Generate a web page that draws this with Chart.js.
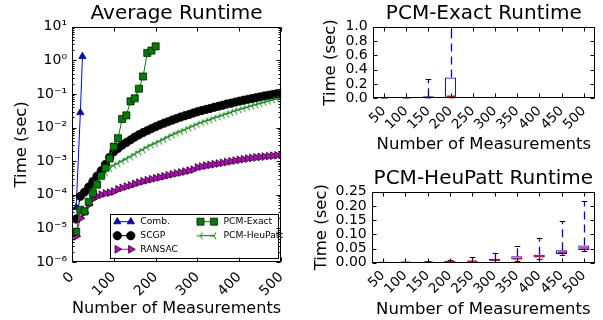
<!DOCTYPE html>
<html>
<head>
<meta charset="utf-8">
<script src="https://cdn.jsdelivr.net/npm/chart.js@4.4.1/dist/chart.umd.min.js"></script>
<style>
  html, body { margin: 0; padding: 0; background: #fff; }
  #wrap { position: relative; width: 603px; height: 320px; }
  canvas { position: absolute; }
</style>
</head>
<body>
<div id="wrap">
  <canvas id="avg" width="300" height="320" style="left:0;top:0"></canvas>
  <canvas id="exact" width="303" height="160" style="left:300px;top:0"></canvas>
  <canvas id="heu" width="303" height="160" style="left:300px;top:160px"></canvas>
</div>
<script>
// ---- Average runtime (log scale) ----
const measurements = [10, 20, 30, 40, 50, 60, 70, 80, 90, 100, 110, 120, 130, 140, 150, 160, 170, 180, 190, 200,
  210, 220, 230, 240, 250, 260, 270, 280, 290, 300, 310, 320, 330, 340, 350, 360, 370, 380, 390, 400,
  410, 420, 430, 440, 450, 460, 470, 480, 490, 500];

const combX = [10, 20, 25];
const combTime = [4.2e-5, 0.028, 1.3];

const scgpTime = [1.9e-5, 9e-5, 1.2e-4, 1.7e-4, 2.5e-4, 3.6e-4, 5.2e-4, 8e-4, 1.3e-3, 1.9e-3,
  2.4e-3, 3.0e-3, 3.6e-3, 4.3e-3, 5.2e-3, 6.1e-3, 7.1e-3, 8.1e-3, 9.3e-3, 0.0106,
  0.012, 0.0135, 0.015, 0.0167, 0.0185, 0.0205, 0.0225, 0.0245, 0.027, 0.0295,
  0.032, 0.0345, 0.037, 0.040, 0.043, 0.046, 0.050, 0.053, 0.057, 0.061,
  0.065, 0.069, 0.073, 0.077, 0.082, 0.087, 0.091, 0.096, 0.101, 0.106];

const ransacTime = [5.8e-6, 2.0e-5, 2.9e-5, 5.0e-5, 7.5e-5, 9.0e-5, 1.0e-4, 1.1e-4, 1.15e-4, 1.25e-4,
  1.45e-4, 1.6e-4, 1.75e-4, 1.9e-4, 2.1e-4, 2.3e-4, 2.5e-4, 2.7e-4, 2.9e-4, 3.1e-4,
  3.3e-4, 3.55e-4, 3.8e-4, 4.05e-4, 4.3e-4, 4.6e-4, 4.9e-4, 5.25e-4, 5.6e-4, 6.5e-4,
  6.9e-4, 7.3e-4, 7.7e-4, 8.1e-4, 8.5e-4, 8.9e-4, 9.4e-4, 9.9e-4, 1.04e-3, 1.09e-3,
  1.14e-3, 1.19e-3, 1.24e-3, 1.29e-3, 1.33e-3, 1.37e-3, 1.41e-3, 1.45e-3, 1.49e-3, 1.53e-3];

const exactX = [10, 20, 30, 40, 50, 60, 70, 80, 90, 100, 110, 120, 130, 140, 150, 160, 170, 180, 190, 200];
const exactTime = [7.9e-6, 3.6e-5, 3.2e-5, 6.2e-5, 1.1e-4, 2.0e-4, 3.7e-4, 6.4e-4, 1.2e-3, 2.7e-3,
  4.8e-3, 0.018, 0.023, 0.060, 0.074, 0.143, 0.33, 1.66, 1.95, 2.6];

const heuX = [50, 60, 70, 80, 90, 100, 110, 120, 130, 140, 150, 160, 170, 180, 190, 200,
  210, 220, 230, 240, 250, 260, 270, 280, 290, 300, 310, 320, 330, 340, 350, 360, 370, 380, 390, 400,
  410, 420, 430, 440, 450, 460, 470, 480, 490, 500];
const heuTime = [1.5e-4, 2.5e-4, 3.4e-4, 4.5e-4, 6.0e-4, 7.5e-4, 8.5e-4, 1.0e-3, 1.15e-3, 1.35e-3,
  1.6e-3, 1.9e-3, 2.2e-3, 2.6e-3, 3.0e-3, 3.4e-3, 3.9e-3, 4.5e-3, 5.2e-3, 6.0e-3,
  6.8e-3, 7.6e-3, 8.6e-3, 9.8e-3, 0.011, 0.0125, 0.014, 0.0155, 0.017, 0.019,
  0.021, 0.023, 0.0255, 0.028, 0.031, 0.034, 0.037, 0.040, 0.044, 0.048,
  0.052, 0.056, 0.061, 0.066, 0.071, 0.076];

const xTicks = [0, 100, 200, 300, 400, 500];
const yTicks = [1e-6, 1e-5, 1e-4, 1e-3, 1e-2, 1e-1, 1, 10];
const yTickLabels = ['10⁻⁶', '10⁻⁵', '10⁻⁴', '10⁻³', '10⁻²', '10⁻¹', '10⁰', '10¹'];

// ---- Box plots ----
const boxLabels = ['50', '100', '150', '200', '250', '300', '350', '400', '450', '500'];

const exactLow = [0, 0.001, 0.002, 0.004, null, null, null, null, null, null];
const exactQ1 = [0, 0.001, 0.003, 0.006, null, null, null, null, null, null];
const exactMed = [0, 0.002, 0.006, 0.03, null, null, null, null, null, null];
const exactQ3 = [0.001, 0.004, 0.03, 0.29, null, null, null, null, null, null];
const exactHigh = [0.002, 0.008, 0.27, 2.4, null, null, null, null, null, null];
const exactYTicks = [0, 0.2, 0.4, 0.6, 0.8, 1.0];

const heuLow = [0.0003, 0.0005, 0.0008, 0.001, 0.0015, 0.004, 0.007, 0.013, 0.026, 0.040];
const heuQ1 = [0.0006, 0.0009, 0.0014, 0.002, 0.003, 0.0065, 0.011, 0.018, 0.031, 0.045];
const heuMed = [0.0008, 0.0012, 0.002, 0.003, 0.0045, 0.009, 0.015, 0.0225, 0.037, 0.052];
const heuQ3 = [0.0012, 0.0018, 0.003, 0.006, 0.008, 0.013, 0.023, 0.028, 0.044, 0.061];
const heuHigh = [0.002, 0.003, 0.006, 0.011, 0.019, 0.035, 0.059, 0.088, 0.147, 0.216];
const heuYTicks = [0, 0.05, 0.10, 0.15, 0.20, 0.25];

Chart.defaults.font.family = "'DejaVu Sans'";
Chart.defaults.color = '#000';

// shift rotated labels so their middle sits under the tick
const labelShift = per => c => (c.tick && c.tick.label !== undefined) ? String(c.tick.label).length * per : 0;

// draws the axes box and inward ticks on all four sides
function framePlugin(logMinor) {
  return {
    id: 'frame',
    afterDraw(chart) {
      const { ctx, chartArea: a, scales: { x, y } } = chart;
      const L = Math.round(a.left) + 0.5, R = Math.round(a.right) - 0.5;
      const T = Math.round(a.top) + 0.5, B = Math.round(a.bottom) - 0.5;
      ctx.save();
      ctx.strokeStyle = '#000';
      ctx.lineWidth = 1;
      ctx.beginPath();
      x.ticks.forEach((t, i) => {
        const px = Math.round(x.getPixelForTick(i)) + 0.5;
        ctx.moveTo(px, T); ctx.lineTo(px, T + 4);
        ctx.moveTo(px, B); ctx.lineTo(px, B - 4);
      });
      y.ticks.forEach((t, i) => {
        const py = Math.round(y.getPixelForTick(i)) + 0.5;
        ctx.moveTo(L, py); ctx.lineTo(L + 4, py);
        ctx.moveTo(R, py); ctx.lineTo(R - 4, py);
      });
      if (logMinor) {
        for (let e = -6; e < 1; e++) {
          for (let k = 2; k < 10; k++) {
            const py = Math.round(y.getPixelForValue(k * Math.pow(10, e))) + 0.5;
            ctx.moveTo(L, py); ctx.lineTo(L + 2, py);
            ctx.moveTo(R, py); ctx.lineTo(R - 2, py);
          }
        }
      }
      ctx.stroke();
      ctx.strokeRect(L, T, R - L, B - T);
      ctx.restore();
    }
  };
}

// tri_left marker like matplotlib '3'
function triLeft(color) {
  const c = document.createElement('canvas');
  c.width = 10; c.height = 10;
  const g = c.getContext('2d');
  g.strokeStyle = color;
  g.lineWidth = 1;
  g.beginPath();
  g.moveTo(5, 5); g.lineTo(1, 5);
  g.moveTo(5, 5); g.lineTo(7, 1.5);
  g.moveTo(5, 5); g.lineTo(7, 8.5);
  g.stroke();
  return c;
}
const heuMarker = triLeft('#008000');

const series = [
  { label: 'Comb.', xs: combX, ys: combTime, color: '#0000ff', style: 'triangle', rot: 0, r: 4.2, order: 5 },
  { label: 'SCGP', xs: measurements, ys: scgpTime, color: '#000000', style: 'circle', rot: 0, r: 4.2, order: 4 },
  { label: 'RANSAC', xs: measurements, ys: ransacTime, color: '#bf00bf', style: 'triangle', rot: 90, r: 4.5, order: 3 },
  { label: 'PCM-Exact', xs: exactX, ys: exactTime, color: '#008000', style: 'rect', rot: 0, r: 5, order: 2 },
  { label: 'PCM-HeuPatt', xs: heuX, ys: heuTime, color: '#008000', style: heuMarker, rot: 0, r: 4, order: 1 }
];

// legend box inside the axes, two columns
const legendPlugin = {
  id: 'legendBox',
  afterDatasetsDraw(chart) {
    const { ctx, chartArea: a } = chart;
    const left = 110.5, top = 214.5, right = Math.round(a.right) - 2.5, bottom = 258.5;
    ctx.save();
    ctx.fillStyle = '#fff';
    ctx.fillRect(left, top, right - left, bottom - top);
    ctx.strokeStyle = '#000';
    ctx.lineWidth = 1;
    ctx.strokeRect(left, top, right - left, bottom - top);
    const slots = [[117.3, 221.7], [117.3, 235.7], [117.3, 249.3], [200.5, 221.7], [200.5, 235.7]];
    series.forEach((s, i) => {
      const [mx, my] = slots[i];
      ctx.strokeStyle = s.color;
      ctx.lineWidth = 1;
      ctx.beginPath();
      ctx.moveTo(mx, my); ctx.lineTo(mx + 13.5, my);
      ctx.stroke();
      [mx, mx + 13.5].forEach(px => {
        ctx.fillStyle = s.color;
        ctx.strokeStyle = '#000';
        ctx.lineWidth = 0.7;
        Chart.helpers.drawPoint(ctx, { pointStyle: s.style, rotation: s.rot, radius: s.r, borderWidth: 0.7 }, px, my);
      });
      ctx.fillStyle = '#000';
      ctx.font = "9.2px 'DejaVu Sans'";
      ctx.textBaseline = 'middle';
      ctx.fillText(s.label, mx + 23, my);
    });
    ctx.restore();
  }
};

new Chart(document.getElementById('avg'), {
  type: 'line',
  data: {
    datasets: series.map(s => ({
      label: s.label,
      data: s.xs.map((x, i) => ({ x: x, y: s.ys[i] })),
      borderColor: s.color,
      backgroundColor: s.color,
      borderWidth: 1,
      pointStyle: s.style,
      pointRotation: s.rot,
      pointRadius: s.r,
      pointBackgroundColor: s.color,
      pointBorderColor: s.style === heuMarker ? s.color : '#000',
      pointBorderWidth: 0.7,
      order: s.order
    }))
  },
  options: {
    responsive: false,
    animation: false,
    layout: { padding: { left: 0, right: 5, top: 0, bottom: 0 }, autoPadding: false },
    plugins: {
      legend: { display: false },
      tooltip: { enabled: false },
      title: { display: true, fullSize: false, text: 'Average Runtime', font: { size: 20, weight: 'normal' }, color: '#000', padding: { top: 2, bottom: 0.7 } }
    },
    scales: {
      x: {
        type: 'linear', min: 0, max: 500,
        afterBuildTicks: s => { s.ticks = xTicks.map(v => ({ value: v })); },
        afterFit: s => { s.height = 58; },
        grid: { display: false, drawTicks: false },
        border: { display: false },
        ticks: { minRotation: 45, maxRotation: 45, font: { size: 14 }, color: '#000', padding: 7,
          labelOffset: labelShift(3.1) },
        title: { display: true, text: 'Number of Measurements', font: { size: 16.5 }, color: '#000', padding: { top: 0, bottom: 1 } }
      },
      y: {
        type: 'logarithmic', min: 1e-6, max: 10,
        afterBuildTicks: s => { s.ticks = yTicks.map(v => ({ value: v })); },
        afterFit: s => { s.width = 72; },
        grid: { display: false, drawTicks: false },
        border: { display: false },
        ticks: { callback: (v, i) => yTickLabels[i], font: { size: 14 }, color: '#000', padding: 5, autoSkip: false },
        title: { display: true, text: 'Time (sec)', font: { size: 16.5 }, color: '#000', padding: { top: 11.5, bottom: 0 } }
      }
    }
  },
  plugins: [legendPlugin, framePlugin(true)]
});

// whiskers, caps and medians drawn from the box stats
function whiskerPlugin(low, q1, med, q3, high) {
  return {
    id: 'whiskers',
    afterDatasetsDraw(chart) {
      const { ctx, chartArea: a, scales: { x, y } } = chart;
      const bars = chart.getDatasetMeta(0).data;
      ctx.save();
      ctx.beginPath();
      ctx.rect(a.left, a.top, a.width, a.height);
      ctx.clip();
      med.forEach((m, i) => {
        if (m === null) return;
        const cx = Math.round(x.getPixelForValue(i)) + 0.5;
        const w = bars[i].width;
        const line = (x1, y1, x2, y2) => { ctx.beginPath(); ctx.moveTo(x1, y1); ctx.lineTo(x2, y2); ctx.stroke(); };
        ctx.lineWidth = 1.3;
        ctx.strokeStyle = '#0000ff';
        ctx.setLineDash([8, 5]);
        line(cx, y.getPixelForValue(q3[i]), cx, y.getPixelForValue(high[i]));
        line(cx, y.getPixelForValue(q1[i]), cx, y.getPixelForValue(low[i]));
        ctx.setLineDash([]);
        ctx.lineWidth = 1;
        ctx.strokeStyle = '#000';
        const capHi = Math.round(y.getPixelForValue(high[i])) + 0.5;
        const capLo = Math.round(y.getPixelForValue(low[i])) + 0.5;
        line(cx - w / 4, capHi, cx + w / 4, capHi);
        line(cx - w / 4, capLo, cx + w / 4, capLo);
        ctx.strokeStyle = '#ff0000';
        ctx.lineWidth = 1.5;
        const pm = y.getPixelForValue(m);
        line(cx - w / 2 + 1, pm, cx + w / 2 - 1, pm);
      });
      ctx.restore();
    }
  };
}

function boxChart(id, title, yTickVals, decimals, yMax, low, q1, med, q3, high, lay) {
  new Chart(document.getElementById(id), {
    type: 'bar',
    data: {
      labels: boxLabels,
      datasets: [{
        data: q1.map((v, i) => v === null ? null : [v, q3[i]]),
        backgroundColor: 'rgba(0,0,0,0)',
        borderColor: '#0000ff',
        borderWidth: 1,
        borderSkipped: false,
        categoryPercentage: 1,
        barPercentage: 0.5
      }]
    },
    options: {
      responsive: false,
      animation: false,
      layout: { padding: { left: 0, right: 8, top: 0, bottom: 0 }, autoPadding: false },
      plugins: {
        legend: { display: false },
        tooltip: { enabled: false },
        title: { display: true, fullSize: false, text: title, font: { size: 20, weight: 'normal' }, color: '#000', padding: lay.titlePad }
      },
      scales: {
        x: {
          afterFit: s => { s.height = lay.xh; },
          grid: { display: false, drawTicks: false },
          border: { display: false },
          ticks: { minRotation: 45, maxRotation: 45, font: { size: 13.5 }, color: '#000', padding: 5, autoSkip: false,
            labelOffset: labelShift(3) },
          title: { display: true, text: 'Number of Measurements', font: { size: 16.5 }, color: '#000', padding: { top: 0, bottom: lay.xtPad } }
        },
        y: {
          min: 0, max: yMax,
          afterBuildTicks: s => { s.ticks = yTickVals.map(v => ({ value: v })); },
          afterFit: s => { s.width = lay.yw; },
          grid: { display: false, drawTicks: false },
          border: { display: false },
          ticks: { callback: v => v.toFixed(decimals), font: { size: 14 }, color: '#000', padding: 5, autoSkip: false },
          title: { display: true, text: 'Time (sec)', font: { size: 16.5 }, color: '#000', padding: { top: lay.ytPad, bottom: 0 } }
        }
      }
    },
    plugins: [whiskerPlugin(low, q1, med, q3, high), framePlugin(false)]
  });
}

boxChart('exact', 'PCM-Exact Runtime', exactYTicks, 1, 1.0, exactLow, exactQ1, exactMed, exactQ3, exactHigh,
  { titlePad: { top: 2, bottom: 0.7 }, xh: 61.7, yw: 72.7, xtPad: 5, ytPad: 21 });
boxChart('heu', 'PCM-HeuPatt Runtime', heuYTicks, 2, 0.25, heuLow, heuQ1, heuMed, heuQ3, heuHigh,
  { titlePad: { top: 6.5, bottom: 1.2 }, xh: 57.3, yw: 71.7, xtPad: 0, ytPad: 11.8 });
</script>
</body>
</html>
